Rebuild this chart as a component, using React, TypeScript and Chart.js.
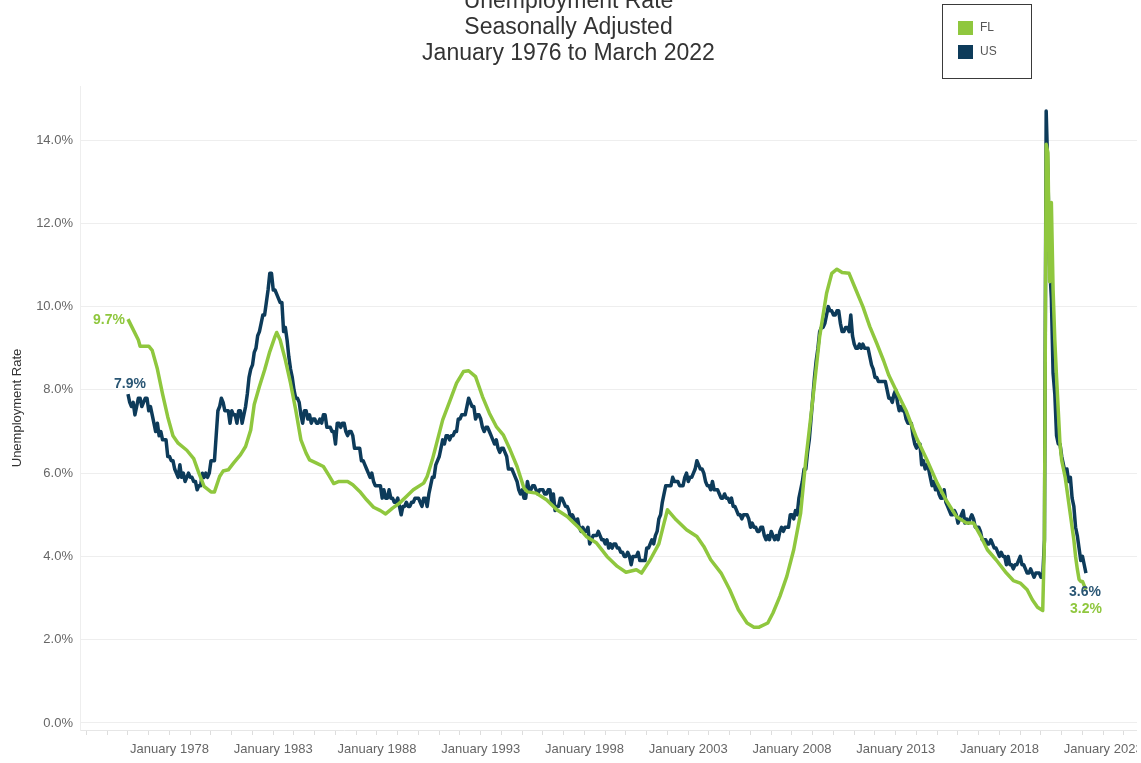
import React, { useEffect, useRef } from 'react';
import { Chart, registerables } from 'chart.js';

Chart.register(...registerables);

const TITLE_LINES = ['Unemployment Rate', 'Seasonally Adjusted', 'January 1976 to March 2022'];
const SERIES_NAMES = ['FL', 'US'];
const Y_AXIS_TITLE = 'Unemployment Rate';

// US monthly rate, starting January 1976
const US_START_YEAR = 1976;
const US_RATE = [
  7.9, 7.7, 7.6, 7.7, 7.4, 7.6, 7.8, 7.8, 7.6, 7.7, 7.8, 7.8,
  7.5, 7.6, 7.4, 7.2, 7.0, 7.2, 6.9, 7.0, 6.8, 6.8, 6.8, 6.4,
  6.4, 6.3, 6.3, 6.1, 6.0, 5.9, 6.2, 5.9, 6.0, 5.8, 5.9, 6.0,
  5.9, 5.9, 5.8, 5.8, 5.6, 5.7, 5.7, 6.0, 5.9, 6.0, 5.9, 6.0,
  6.3, 6.3, 6.3, 6.9, 7.5, 7.6, 7.8, 7.7, 7.5, 7.5, 7.5, 7.2,
  7.5, 7.4, 7.4, 7.2, 7.5, 7.5, 7.2, 7.4, 7.6, 7.9, 8.3, 8.5,
  8.6, 8.9, 9.0, 9.3, 9.4, 9.6, 9.8, 9.8, 10.1, 10.4, 10.8, 10.8,
  10.4, 10.4, 10.3, 10.2, 10.1, 10.1, 9.4, 9.5, 9.2, 8.8, 8.5, 8.3,
  8.0, 7.8, 7.8, 7.7, 7.4, 7.2, 7.5, 7.5, 7.3, 7.4, 7.2, 7.3,
  7.3, 7.2, 7.2, 7.3, 7.2, 7.4, 7.4, 7.1, 7.1, 7.1, 7.0, 7.0,
  6.7, 7.2, 7.2, 7.1, 7.2, 7.2, 7.0, 6.9, 7.0, 7.0, 6.9, 6.6,
  6.6, 6.6, 6.6, 6.3, 6.3, 6.2, 6.1, 6.0, 5.9, 6.0, 5.8, 5.7,
  5.7, 5.7, 5.7, 5.4, 5.6, 5.4, 5.4, 5.6, 5.4, 5.4, 5.3, 5.3,
  5.4, 5.2, 5.0, 5.2, 5.2, 5.3, 5.2, 5.2, 5.3, 5.3, 5.4, 5.4,
  5.4, 5.3, 5.2, 5.4, 5.4, 5.2, 5.5, 5.7, 5.9, 5.9, 6.2, 6.3,
  6.4, 6.6, 6.8, 6.7, 6.9, 6.9, 6.8, 6.9, 6.9, 7.0, 7.0, 7.3,
  7.3, 7.4, 7.4, 7.4, 7.6, 7.8, 7.7, 7.6, 7.6, 7.3, 7.4, 7.4,
  7.3, 7.1, 7.0, 7.1, 7.1, 7.0, 6.9, 6.8, 6.7, 6.8, 6.6, 6.5,
  6.6, 6.6, 6.5, 6.4, 6.1, 6.1, 6.1, 6.0, 5.9, 5.8, 5.6, 5.5,
  5.6, 5.4, 5.4, 5.8, 5.6, 5.6, 5.7, 5.7, 5.6, 5.5, 5.6, 5.6,
  5.6, 5.5, 5.5, 5.6, 5.6, 5.3, 5.5, 5.1, 5.2, 5.2, 5.4, 5.4,
  5.3, 5.2, 5.2, 5.1, 4.9, 5.0, 4.9, 4.8, 4.9, 4.7, 4.6, 4.7,
  4.6, 4.6, 4.7, 4.3, 4.4, 4.5, 4.5, 4.5, 4.6, 4.5, 4.4, 4.4,
  4.3, 4.4, 4.2, 4.3, 4.2, 4.3, 4.3, 4.2, 4.2, 4.1, 4.1, 4.0,
  4.0, 4.1, 4.0, 3.8, 4.0, 4.0, 4.0, 4.1, 3.9, 3.9, 3.9, 3.9,
  4.2, 4.2, 4.3, 4.4, 4.3, 4.5, 4.6, 4.9, 5.0, 5.3, 5.5, 5.7,
  5.7, 5.7, 5.7, 5.9, 5.8, 5.8, 5.8, 5.7, 5.7, 5.7, 5.9, 6.0,
  5.8, 5.9, 5.9, 6.0, 6.1, 6.3, 6.2, 6.1, 6.1, 6.0, 5.8, 5.7,
  5.7, 5.6, 5.8, 5.6, 5.6, 5.6, 5.5, 5.4, 5.4, 5.5, 5.4, 5.4,
  5.3, 5.4, 5.2, 5.2, 5.1, 5.0, 5.0, 4.9, 5.0, 5.0, 5.0, 4.9,
  4.7, 4.8, 4.7, 4.7, 4.6, 4.6, 4.7, 4.7, 4.5, 4.4, 4.5, 4.4,
  4.6, 4.5, 4.4, 4.5, 4.4, 4.6, 4.7, 4.6, 4.7, 4.7, 4.7, 5.0,
  5.0, 4.9, 5.1, 5.0, 5.4, 5.6, 5.8, 6.1, 6.1, 6.5, 6.8, 7.3,
  7.8, 8.3, 8.7, 9.0, 9.4, 9.5, 9.5, 9.6, 9.8, 10.0, 9.9, 9.9,
  9.8, 9.8, 9.9, 9.9, 9.6, 9.4, 9.4, 9.5, 9.5, 9.4, 9.8, 9.3,
  9.1, 9.0, 9.0, 9.1, 9.0, 9.1, 9.0, 9.0, 9.0, 8.8, 8.6, 8.5,
  8.3, 8.3, 8.2, 8.2, 8.2, 8.2, 8.2, 8.0, 7.8, 7.8, 7.7, 7.9,
  8.0, 7.7, 7.5, 7.6, 7.5, 7.5, 7.3, 7.2, 7.2, 7.2, 6.9, 6.7,
  6.6, 6.7, 6.7, 6.2, 6.3, 6.1, 6.2, 6.1, 5.9, 5.7, 5.8, 5.6,
  5.7, 5.5, 5.4, 5.4, 5.6, 5.3, 5.2, 5.1, 5.0, 5.0, 5.1, 5.0,
  4.8, 4.9, 5.0, 5.1, 4.8, 4.9, 4.8, 4.9, 5.0, 4.9, 4.7, 4.7,
  4.7, 4.6, 4.4, 4.4, 4.4, 4.3, 4.3, 4.4, 4.3, 4.2, 4.2, 4.1,
  4.0, 4.1, 4.0, 4.0, 3.8, 4.0, 3.8, 3.8, 3.7, 3.8, 3.8, 3.9,
  4.0, 3.8, 3.8, 3.7, 3.6, 3.6, 3.7, 3.6, 3.5, 3.6, 3.6, 3.6,
  3.5, 3.5, 4.4, 14.7, 13.2, 11.0, 10.2, 8.4, 7.9, 6.9, 6.7, 6.7,
  6.4, 6.2, 6.0, 6.1, 5.8, 5.9, 5.4, 5.2, 4.7, 4.5, 4.2, 3.9,
  4.0, 3.8, 3.6,
];

// FL rate at these months
const FL_DATES = [
  '1976-01', '1976-07', '1976-08', '1977-01', '1977-03', '1977-06', '1977-09', '1977-12',
  '1978-03', '1978-06', '1978-11', '1979-03', '1979-06', '1979-09', '1980-01', '1980-03',
  '1980-06', '1980-08', '1980-11', '1981-02', '1981-06', '1981-09', '1981-12', '1982-02',
  '1982-05', '1982-08', '1982-11', '1983-02', '1983-03', '1983-05', '1983-08', '1983-11',
  '1984-02', '1984-05', '1984-08', '1984-10', '1985-02', '1985-06', '1985-09', '1985-12',
  '1986-03', '1986-08', '1986-11', '1987-03', '1987-07', '1987-11', '1988-03', '1988-06',
  '1988-10', '1989-02', '1989-06', '1989-10', '1990-04', '1990-06', '1990-09', '1990-12',
  '1991-03', '1991-07', '1991-11', '1992-03', '1992-06', '1992-10', '1993-02', '1993-06',
  '1993-10', '1994-02', '1994-06', '1994-10', '1995-02', '1995-04', '1995-09', '1996-03',
  '1996-09', '1997-03', '1997-09', '1998-02', '1998-08', '1999-02', '1999-08', '2000-01',
  '2000-07', '2000-10', '2001-03', '2001-08', '2001-11', '2002-01', '2002-06', '2002-12',
  '2003-06', '2003-10', '2004-02', '2004-08', '2005-01', '2005-06', '2005-11', '2006-03',
  '2006-06', '2006-11', '2007-02', '2007-06', '2007-10', '2008-02', '2008-06', '2008-09',
  '2009-01', '2009-05', '2009-09', '2009-12', '2010-03', '2010-06', '2010-10', '2011-02',
  '2011-06', '2011-10', '2012-02', '2012-06', '2012-09', '2013-02', '2013-07', '2014-01',
  '2014-07', '2015-01', '2015-06', '2015-12', '2016-06', '2016-10', '2017-02', '2017-06',
  '2017-11', '2018-05', '2018-09', '2019-01', '2019-05', '2019-08', '2019-11', '2020-02',
  '2020-03', '2020-04', '2020-05', '2020-06', '2020-07', '2020-08', '2020-09', '2020-10',
  '2020-11', '2020-12', '2021-01', '2021-02', '2021-03', '2021-04', '2021-05', '2021-06',
  '2021-07', '2021-08', '2021-09', '2021-10', '2021-11', '2021-12', '2022-01', '2022-02',
  '2022-03',
];
const FL_RATE = [
  9.7, 9.2, 9.05, 9.05, 8.95, 8.5, 7.9, 7.35,
  6.9, 6.72, 6.55, 6.35, 6.0, 5.68, 5.55, 5.55,
  5.92, 6.05, 6.08, 6.24, 6.44, 6.64, 7.04, 7.65,
  8.08, 8.48, 8.92, 9.28, 9.38, 9.2, 8.72, 8.16,
  7.52, 6.8, 6.48, 6.32, 6.24, 6.16, 5.96, 5.75,
  5.8, 5.8, 5.72, 5.56, 5.36, 5.18, 5.1, 5.02,
  5.16, 5.28, 5.44, 5.6, 5.76, 5.92, 6.32, 6.8,
  7.28, 7.72, 8.16, 8.44, 8.46, 8.32, 7.84, 7.44,
  7.12, 6.92, 6.56, 6.16, 5.64, 5.55, 5.52, 5.36,
  5.12, 4.96, 4.72, 4.48, 4.32, 4.0, 3.76, 3.62,
  3.68, 3.6, 3.92, 4.3, 4.8, 5.12, 4.88, 4.64,
  4.48, 4.24, 3.92, 3.6, 3.2, 2.72, 2.4, 2.3,
  2.3, 2.4, 2.64, 3.04, 3.52, 4.16, 5.04, 6.32,
  7.76, 9.28, 10.32, 10.8, 10.9, 10.82, 10.8, 10.4,
  10.0, 9.52, 9.12, 8.7, 8.35, 7.92, 7.5, 6.85,
  6.32, 5.76, 5.36, 4.96, 4.8, 4.8, 4.5, 4.16,
  3.92, 3.6, 3.42, 3.36, 3.2, 2.96, 2.78, 2.7,
  4.4, 13.9, 13.7, 10.6, 12.5, 10.4, 9.2, 8.3,
  7.5, 6.7, 6.3, 6.1, 5.9, 5.6, 5.3, 5.0,
  4.7, 4.4, 4.0, 3.7, 3.45, 3.4, 3.4, 3.3,
  3.2,
];

const X_LABEL_YEARS = [1978, 1983, 1988, 1993, 1998, 2003, 2008, 2013, 2018, 2023];
const Y_TICKS = [0, 2, 4, 6, 8, 10, 12, 14];

const FL_COLOR = '#8fc73e';
const US_COLOR = '#0d3b5a';
const US_LABEL_COLOR = '#2a5674';
const FONT = '"Liberation Sans", Arial, sans-serif';

const X_MIN = 1973.687;
const X_MAX = 2024.627;
const Y_MIN = -0.17;
const Y_MAX = 15.3;

const monthToYear = (s: string) => {
  const [y, m] = s.split('-').map(Number);
  return y + (m - 1) / 12;
};
const pct = (v: number) => v.toFixed(1) + '%';

const annotate = {
  id: 'annotate',
  afterDatasetsDraw(chart: any) {
    const ctx = chart.ctx;
    const fl = chart.getDatasetMeta(0).data;
    const us = chart.getDatasetMeta(1).data;
    const flFirst = fl[0];
    const flLast = fl[fl.length - 1];
    const usFirst = us[0];
    const usLast = us[us.length - 1];
    ctx.save();
    ctx.font = 'bold 14px ' + FONT;
    ctx.textBaseline = 'middle';
    ctx.fillStyle = FL_COLOR;
    ctx.textAlign = 'right';
    ctx.fillText(pct(FL_RATE[0]), flFirst.x - 3, flFirst.y + 1);
    ctx.textAlign = 'center';
    ctx.fillText(pct(FL_RATE[FL_RATE.length - 1]), flLast.x, flLast.y + 19);
    ctx.fillStyle = US_LABEL_COLOR;
    ctx.fillText(pct(US_RATE[0]), usFirst.x + 2, usFirst.y - 10);
    ctx.fillText(pct(US_RATE[US_RATE.length - 1]), usLast.x - 1, usLast.y + 19);
    ctx.restore();
  },
  afterDraw(chart: any) {
    const ctx = chart.ctx;
    ctx.save();
    ctx.strokeStyle = '#3a3a3a';
    ctx.lineWidth = 1;
    ctx.strokeRect(942.5, 24.5, 89, 74);
    const colors = [FL_COLOR, US_COLOR];
    ctx.font = '12px ' + FONT;
    ctx.textBaseline = 'middle';
    ctx.textAlign = 'left';
    SERIES_NAMES.forEach((name, i) => {
      const y = 41 + i * 24;
      ctx.fillStyle = colors[i];
      ctx.fillRect(958, y, 15, 14);
      ctx.fillStyle = '#555555';
      ctx.fillText(name, 980, y + 7);
    });
    ctx.restore();
  },
};

export default function App() {
  const ref = useRef<HTMLCanvasElement | null>(null);
  useEffect(() => {
    if (!ref.current) return;
    const usPoints = US_RATE.map((v, i) => ({ x: US_START_YEAR + i / 12, y: v }));
    const flPoints = FL_RATE.map((v, i) => ({ x: monthToYear(FL_DATES[i]), y: v }));
    const chart = new Chart(ref.current, {
      type: 'line',
      data: {
        datasets: [
          {
            label: SERIES_NAMES[0],
            data: flPoints,
            borderColor: FL_COLOR,
            backgroundColor: FL_COLOR,
            borderWidth: 3.5,
            pointRadius: 0,
            tension: 0,
            borderJoinStyle: 'round',
          },
          {
            label: SERIES_NAMES[1],
            data: usPoints,
            borderColor: US_COLOR,
            backgroundColor: US_COLOR,
            borderWidth: 3.5,
            pointRadius: 0,
            tension: 0,
            borderJoinStyle: 'round',
          },
        ],
      },
      options: {
        animation: false,
        responsive: false,
        layout: { padding: 0 },
        plugins: {
          legend: { display: false },
          tooltip: { enabled: false },
          title: {
            display: true,
            text: TITLE_LINES,
            color: '#333333',
            font: { family: FONT, size: 23, weight: 'normal', lineHeight: 1.15 },
            padding: { top: 8, bottom: 18.65 },
          },
        },
        scales: {
          x: {
            type: 'linear',
            min: X_MIN,
            max: X_MAX,
            afterBuildTicks: (scale: any) => {
              const ticks = [];
              for (let y = Math.ceil(X_MIN); y <= Math.floor(X_MAX); y++) ticks.push({ value: y });
              scale.ticks = ticks;
            },
            afterFit: (scale: any) => {
              scale.height = 40;
              scale.paddingLeft = 0;
              scale.paddingRight = 0;
            },
            ticks: {
              autoSkip: false,
              maxRotation: 0,
              minRotation: 0,
              padding: 7,
              color: '#666666',
              font: { family: FONT, size: 13 },
              callback: (v: any) => {
                const yr = Math.round(Number(v));
                return X_LABEL_YEARS.includes(yr) ? 'January ' + yr : '';
              },
            },
            grid: { drawOnChartArea: false, drawTicks: true, tickLength: 5, color: '#dddddd' },
            border: { display: true, color: '#e6e6e6' },
          },
          y: {
            min: Y_MIN,
            max: Y_MAX,
            afterBuildTicks: (scale: any) => {
              scale.ticks = Y_TICKS.map((v) => ({ value: v }));
            },
            afterFit: (scale: any) => {
              scale.width = 80;
            },
            ticks: {
              padding: 7,
              color: '#666666',
              font: { family: FONT, size: 13 },
              callback: (v: any) => pct(Number(v)),
            },
            grid: { color: '#eeeeee', drawTicks: false },
            border: { display: true, color: '#eeeeee' },
            title: {
              display: true,
              text: Y_AXIS_TITLE,
              color: '#333333',
              font: { family: FONT, size: 13 },
              padding: { top: 10, bottom: 0 },
            },
          },
        },
      },
      plugins: [annotate],
    } as any);
    return () => chart.destroy();
  }, []);

  return (
    <div
      style={{
        position: 'fixed',
        left: 0,
        top: 0,
        width: 1141,
        height: 763,
        overflow: 'hidden',
        background: '#ffffff',
      }}
    >
      <canvas
        ref={ref}
        width={1137}
        height={790}
        style={{ position: 'absolute', left: 0, top: -20, width: 1137, height: 790 }}
      />
    </div>
  );
}
